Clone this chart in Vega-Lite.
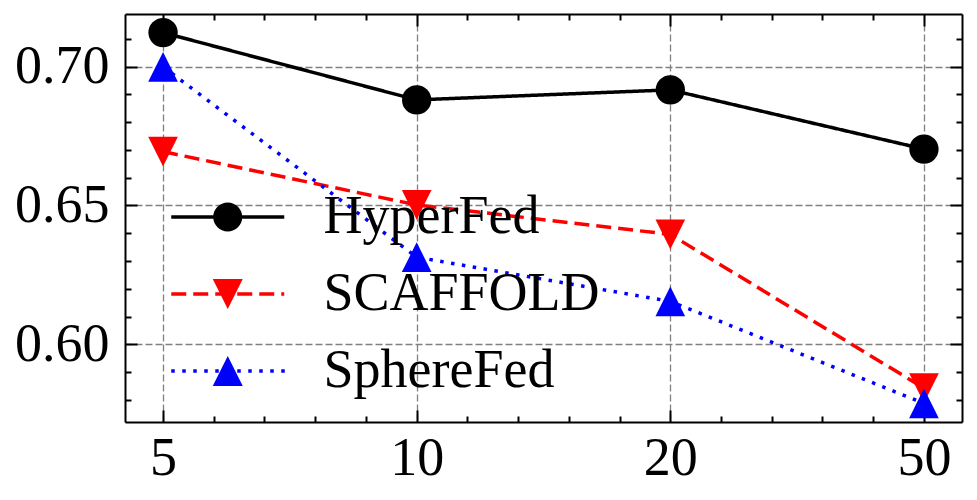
{
  "$schema": "https://vega.github.io/schema/vega-lite/v6.json",
  "width": 837,
  "height": 408,
  "autosize": {"type": "none"},
  "padding": {"left": 125, "top": 14, "right": 15, "bottom": 78},
  "background": "white",
  "config": {
    "view": {"stroke": null},
    "axis": {
      "domainColor": "black", "domainWidth": 2,
      "tickColor": "black", "tickWidth": 2,
      "labelFont": "Liberation Serif", "labelFontSize": 54, "labelColor": "black",
      "gridColor": "#808080", "gridWidth": 1.3, "gridDash": [7, 3],
      "title": null, "labelOverlap": false, "labelBound": false, "labelFlush": false
    }
  },
  "data": {
    "values": [
      {"n": 5, "method": "HyperFed", "acc": 0.7122},
      {"n": 10, "method": "HyperFed", "acc": 0.6880},
      {"n": 20, "method": "HyperFed", "acc": 0.6916},
      {"n": 50, "method": "HyperFed", "acc": 0.6703},
      {"n": 5, "method": "SCAFFOLD", "acc": 0.6694},
      {"n": 10, "method": "SCAFFOLD", "acc": 0.6502},
      {"n": 20, "method": "SCAFFOLD", "acc": 0.6396},
      {"n": 50, "method": "SCAFFOLD", "acc": 0.5843},
      {"n": 5, "method": "SphereFed", "acc": 0.6999},
      {"n": 10, "method": "SphereFed", "acc": 0.6314},
      {"n": 20, "method": "SphereFed", "acc": 0.6155},
      {"n": 50, "method": "SphereFed", "acc": 0.5788}
    ]
  },
  "resolve": {
    "scale": {"fill": "independent", "stroke": "independent", "strokeDash": "independent", "shape": "independent"},
    "axis": {"x": "independent", "y": "independent"}
  },
  "layer": [
    {
      "mark": {"type": "line", "strokeWidth": 3.5},
      "encoding": {
        "x": {
          "field": "n", "type": "quantitative",
          "scale": {"domain": [4.25, 5, 10, 20, 50, 54.5], "range": [0, 38.045, 291.68, 545.32, 798.95, 837], "nice": false, "zero": false},
          "axis": {
            "orient": "bottom",
            "values": [5, 6, 7, 8, 9, 10, 12, 14, 16, 18, 20, 26, 32, 38, 44, 50],
            "labelExpr": "indexof([5,10,20,50], datum.value) >= 0 ? datum.label : ''",
            "tickSize": {"condition": {"test": "indexof([5,10,20,50], datum.value) >= 0", "value": -12}, "value": -6},
            "labelPadding": 21,
            "grid": true,
            "gridOpacity": {"condition": {"test": "indexof([5,10,20,50], datum.value) >= 0", "value": 1}, "value": 0}
          }
        },
        "y": {
          "field": "acc", "type": "quantitative",
          "scale": {"domain": [0.5721, 0.7189], "nice": false, "zero": false},
          "axis": {
            "orient": "left",
            "values": [0.58, 0.59, 0.6, 0.61, 0.62, 0.63, 0.64, 0.65, 0.66, 0.67, 0.68, 0.69, 0.7, 0.71],
            "format": ".2f",
            "labelExpr": "abs(datum.value*20 - round(datum.value*20)) < 0.001 ? datum.label : ''",
            "tickSize": {"condition": {"test": "abs(datum.value*20 - round(datum.value*20)) < 0.001", "value": -12}, "value": -6},
            "labelPadding": 28,
            "grid": true,
            "gridOpacity": {"condition": {"test": "abs(datum.value*20 - round(datum.value*20)) < 0.001", "value": 1}, "value": 0}
          }
        },
        "stroke": {"field": "method", "type": "nominal", "scale": {"domain": ["HyperFed", "SCAFFOLD", "SphereFed"], "range": ["#000000", "#ff0000", "#0000ff"]}, "legend": null},
        "strokeDash": {"field": "method", "type": "nominal", "scale": {"domain": ["HyperFed", "SCAFFOLD", "SphereFed"], "range": [[1, 0], [15, 7], [3.5, 7.5]]}, "legend": null}
      }
    },
    {
      "transform": [{"filter": "datum.method === 'HyperFed'"}],
      "mark": {"type": "point", "shape": "circle", "filled": true, "opacity": 1, "strokeWidth": 0, "size": 860},
      "encoding": {
        "x": {
          "field": "n", "type": "quantitative",
          "scale": {"domain": [4.25, 5, 10, 20, 50, 54.5], "range": [0, 38.045, 291.68, 545.32, 798.95, 837], "nice": false, "zero": false},
          "axis": {
            "orient": "top",
            "values": [5, 6, 7, 8, 9, 10, 12, 14, 16, 18, 20, 26, 32, 38, 44, 50],
            "labels": false,
            "tickSize": {"condition": {"test": "indexof([5,10,20,50], datum.value) >= 0", "value": -12}, "value": -6},
            "grid": false
          }
        },
        "y": {
          "field": "acc", "type": "quantitative",
          "scale": {"domain": [0.5721, 0.7189], "nice": false, "zero": false},
          "axis": {
            "orient": "right",
            "values": [0.58, 0.59, 0.6, 0.61, 0.62, 0.63, 0.64, 0.65, 0.66, 0.67, 0.68, 0.69, 0.7, 0.71],
            "labels": false,
            "tickSize": {"condition": {"test": "abs(datum.value*20 - round(datum.value*20)) < 0.001", "value": -12}, "value": -6},
            "grid": false
          }
        },
        "fill": {"field": "method", "type": "nominal", "scale": {"domain": ["HyperFed", "SCAFFOLD", "SphereFed"], "range": ["#000000", "#ff0000", "#0000ff"]}, "legend": null}
      }
    },
    {
      "transform": [{"filter": "datum.method === 'SCAFFOLD'"}],
      "mark": {"type": "point", "shape": "M-1,-1L1,-1L0,1Z", "filled": true, "opacity": 1, "strokeWidth": 0, "size": 880},
      "encoding": {
        "x": {"field": "n", "type": "quantitative", "axis": null},
        "y": {"field": "acc", "type": "quantitative", "axis": null},
        "fill": {"field": "method", "type": "nominal", "scale": {"domain": ["HyperFed", "SCAFFOLD", "SphereFed"], "range": ["#000000", "#ff0000", "#0000ff"]}, "legend": null}
      }
    },
    {
      "transform": [{"filter": "datum.method === 'SphereFed'"}],
      "mark": {"type": "point", "shape": "M0,-1L-1,1L1,1Z", "filled": true, "opacity": 1, "strokeWidth": 0, "size": 880},
      "encoding": {
        "x": {"field": "n", "type": "quantitative", "axis": null},
        "y": {"field": "acc", "type": "quantitative", "axis": null},
        "fill": {"field": "method", "type": "nominal", "scale": {"domain": ["HyperFed", "SCAFFOLD", "SphereFed"], "range": ["#000000", "#ff0000", "#0000ff"]}, "legend": null}
      }
    },
    {
      "transform": [{"filter": "false"}],
      "mark": {"type": "point", "filled": true, "opacity": 1, "strokeWidth": 0, "size": 900},
      "encoding": {
        "x": {"field": "n", "type": "quantitative", "axis": null},
        "y": {"field": "acc", "type": "quantitative", "axis": null},
        "fill": {"field": "method", "type": "nominal", "scale": {"domain": ["HyperFed", "SCAFFOLD", "SphereFed"], "range": ["#000000", "#ff0000", "#0000ff"]},
          "legend": {"title": null, "orient": "none", "legendX": 75.75, "legendY": 176, "padding": 0, "labelFont": "Liberation Serif", "labelFontSize": 54, "labelColor": "black", "labelOffset": 68.75, "labelLimit": 0, "rowPadding": 23, "symbolSize": 900, "symbolStrokeWidth": 0, "symbolFillColor": "black", "symbolStrokeColor": "transparent", "symbolOpacity": 1}},
        "shape": {"field": "method", "type": "nominal", "scale": {"domain": ["HyperFed", "SCAFFOLD", "SphereFed"], "range": [
          "M-3.767,-0.117H3.767V0.117H-3.767ZM0.967,0A0.967,0.967,0,1,1,-0.967,0A0.967,0.967,0,1,1,0.967,0Z",
          "M-3.767,-0.117H-2.767V0.117H-3.767ZM-2.3,-0.117H-1.3V0.117H-2.3ZM-0.833,-0.117H0.167V0.117H-0.833ZM0.633,-0.117H1.633V0.117H0.633ZM2.1,-0.117H3.1V0.117H2.1ZM3.567,-0.117H3.767V0.117H3.567ZM-1,-1L1,-1L0,1Z",
          "M-3.767,-0.117H-3.533V0.117H-3.767ZM-3.033,-0.117H-2.8V0.117H-3.033ZM-2.3,-0.117H-2.067V0.117H-2.3ZM-1.567,-0.117H-1.333V0.117H-1.567ZM-0.833,-0.117H-0.6V0.117H-0.833ZM-0.1,-0.117H0.133V0.117H-0.1ZM0.633,-0.117H0.867V0.117H0.633ZM1.367,-0.117H1.6V0.117H1.367ZM2.1,-0.117H2.333V0.117H2.1ZM2.833,-0.117H3.067V0.117H2.833ZM3.567,-0.117H3.8V0.117H3.567ZM0,-1L1,1L-1,1Z"
        ]},
          "legend": {"title": null, "orient": "none", "legendX": 75.75, "legendY": 176, "padding": 0, "labelFont": "Liberation Serif", "labelFontSize": 54, "labelColor": "black", "labelOffset": 68.75, "labelLimit": 0, "rowPadding": 23, "symbolSize": 900, "symbolStrokeWidth": 0, "symbolFillColor": "black", "symbolStrokeColor": "transparent", "symbolOpacity": 1}}
      }
    }
  ]
}
